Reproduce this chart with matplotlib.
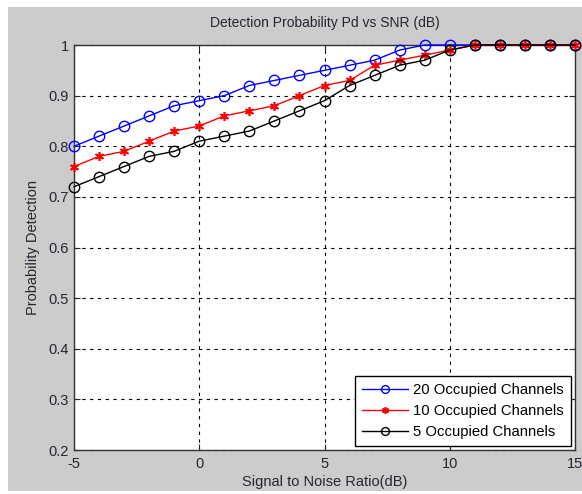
import numpy as np
import matplotlib
matplotlib.use("Agg")
import matplotlib.pyplot as plt
from matplotlib.patches import Rectangle

snr_db = [-5, -4, -3, -2, -1, 0, 1, 2, 3, 4, 5, 6, 7, 8, 9, 10, 11, 12, 13, 14, 15]
pd_20 = [0.80, 0.82, 0.84, 0.86, 0.88, 0.89, 0.90, 0.92, 0.93, 0.94, 0.95,
         0.96, 0.97, 0.99, 1.00, 1.00, 1.00, 1.00, 1.00, 1.00, 1.00]
pd_10 = [0.76, 0.78, 0.79, 0.81, 0.83, 0.84, 0.86, 0.87, 0.88, 0.90, 0.92,
         0.93, 0.96, 0.97, 0.98, 0.99, 1.00, 1.00, 1.00, 1.00, 1.00]
pd_5 = [0.72, 0.74, 0.76, 0.78, 0.79, 0.81, 0.82, 0.83, 0.85, 0.87, 0.89,
        0.92, 0.94, 0.96, 0.97, 0.99, 1.00, 1.00, 1.00, 1.00, 1.00]
labels = ["20 Occupied Channels", "10 Occupied Channels", "5 Occupied Channels"]

plt.rcParams['font.family'] = ['Liberation Sans', 'DejaVu Sans']
plt.rcParams['axes.unicode_minus'] = False
txt_color = "#262633"

fig = plt.figure(figsize=(5.82, 4.94), dpi=100, facecolor="white")
# matlab-style grey figure panel, kept behind the axes
fig.patches.append(Rectangle((8 / 582, 3 / 494), 1.0, 484 / 494, transform=fig.transFigure,
                             facecolor="#cccccc", edgecolor="none", zorder=-10))

ax = fig.add_axes([74 / 582, 1 - 450 / 494, 501 / 582, 405 / 494])
ax.set_zorder(1)
ax.set_facecolor("white")

ax.plot(snr_db, pd_20, color="blue", marker="o", mfc="none", ms=7.5, mew=1.0, lw=1.0,
        label=labels[0], clip_on=False, zorder=3)
ax.plot(snr_db, pd_10, color="red", marker=(6, 2, 0), ms=6.5, mew=1.2, lw=1.0,
        label=labels[1], clip_on=False, zorder=4)
ax.plot(snr_db, pd_5, color="black", marker="o", mfc="none", ms=7.5, mew=1.0, lw=1.0,
        label=labels[2], clip_on=False, zorder=5)

ax.set_xlim(-5, 15)
ax.set_ylim(0.2, 1.0)
ax.set_xticks([-5, 0, 5, 10, 15])
ax.set_yticks(np.arange(0.2, 1.01, 0.1))
ax.set_yticklabels(["0.2", "0.3", "0.4", "0.5", "0.6", "0.7", "0.8", "0.9", "1"])
ax.tick_params(direction="in", top=True, right=True, length=4, labelsize=10.5,
               colors=txt_color, labelcolor=txt_color)
ax.tick_params(axis="x", pad=5)
ax.grid(True, color="black", linestyle=(0, (3, 4)), lw=0.8)
for s in ax.spines.values():
    s.set_color("#333333")
    s.set_linewidth(1.0)

ax.set_title("Detection Probability Pd vs SNR (dB)", fontsize=10, color=txt_color, pad=13)
ax.set_xlabel("Signal to Noise Ratio(dB)", fontsize=10.5, color=txt_color, labelpad=3)
ax.set_ylabel("Probability Detection", fontsize=10.5, color=txt_color, labelpad=6)

leg = ax.legend(loc="lower right", fontsize=10.7, fancybox=False, framealpha=1,
                edgecolor="black", borderaxespad=0.25, handlelength=3.1,
                handletextpad=0.35, labelspacing=0.45, borderpad=0.5, markerscale=0.75)
leg.get_frame().set_linewidth(1.0)

fig.savefig("out.png", dpi=100, facecolor=fig.get_facecolor())
